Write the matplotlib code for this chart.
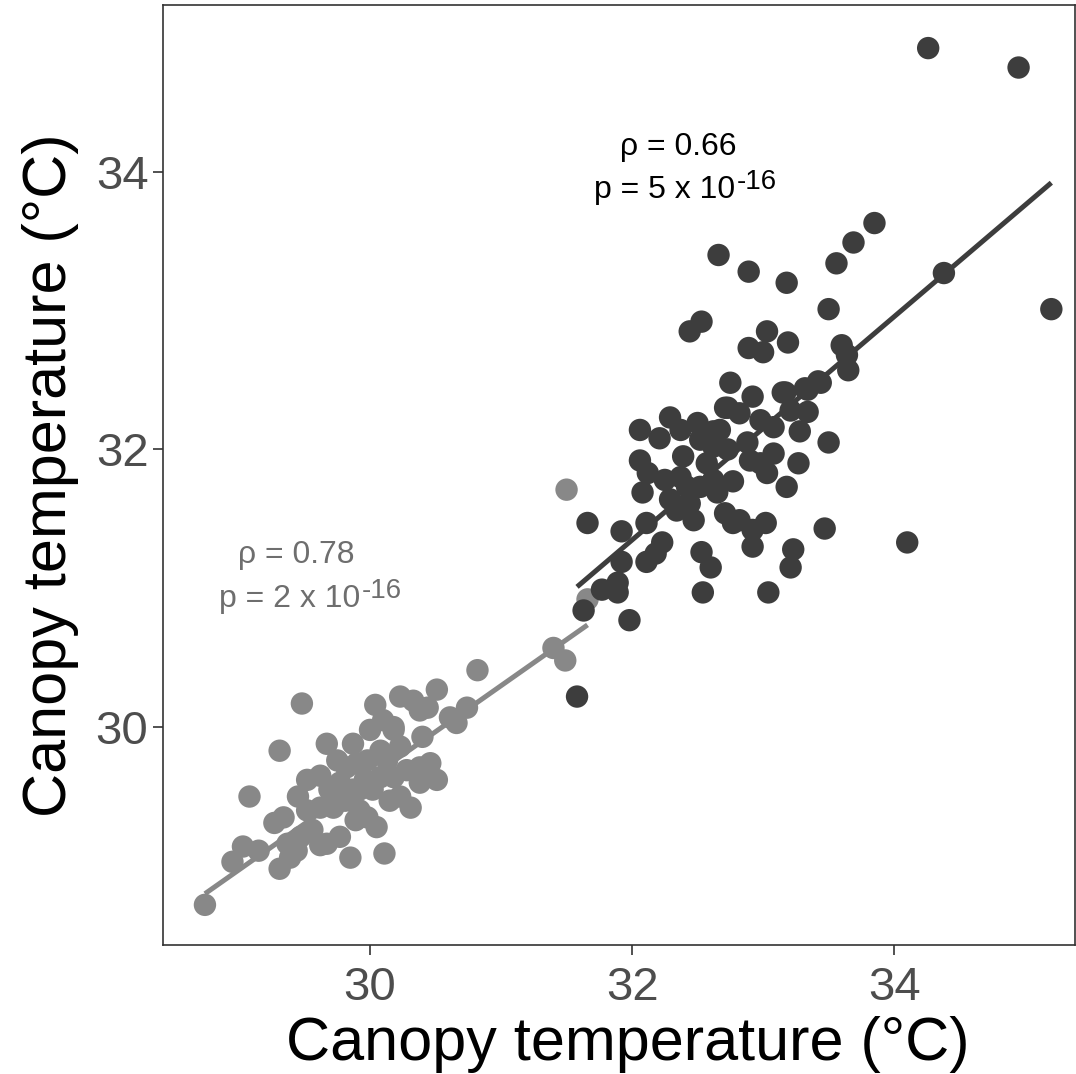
import matplotlib
matplotlib.use("Agg")
import matplotlib.pyplot as plt

plt.rcParams['font.family'] = ['Liberation Sans', 'DejaVu Sans']

# group 1 (light grey)
grey_x = [28.74, 28.95, 29.03, 29.15, 29.31, 29.27, 29.34, 29.37, 29.44, 29.08,
          29.31, 29.48, 29.67, 29.52, 29.62, 29.45, 29.52, 29.75, 29.87, 29.90,
          29.77, 29.72, 29.67, 29.85, 29.77, 29.92, 29.87, 30.02, 30.05, 30.11,
          29.98, 30.00, 30.10, 30.18, 30.08, 30.13, 30.23, 30.18, 30.08, 30.23,
          30.31, 30.28, 30.38, 30.40, 30.46, 30.51, 30.38, 30.23, 30.33, 30.44,
          30.51, 30.38, 30.61, 30.66, 30.74, 30.82, 30.18, 29.98, 29.82, 29.69,
          29.62, 29.56, 29.47, 29.39, 31.40, 31.49, 31.50, 31.66, 29.92, 29.81,
          29.96, 30.15, 30.04, 29.89, 29.62]
grey_y = [28.72, 29.03, 29.14, 29.11, 28.98, 29.31, 29.35, 29.16, 29.11, 29.50,
          29.83, 30.17, 29.88, 29.62, 29.65, 29.50, 29.40, 29.76, 29.88, 29.74,
          29.60, 29.42, 29.16, 29.06, 29.21, 29.40, 29.55, 29.55, 29.28, 29.09,
          29.35, 29.98, 30.05, 29.98, 29.83, 29.76, 29.86, 29.64, 29.64, 29.50,
          29.42, 29.69, 29.71, 29.93, 29.74, 29.62, 29.60, 30.22, 30.19, 30.14,
          30.27, 30.12, 30.07, 30.03, 30.14, 30.41, 30.00, 29.76, 29.71, 29.55,
          29.42, 29.26, 29.21, 29.06, 30.57, 30.48, 31.71, 30.92, 29.55, 29.47,
          29.62, 29.47, 30.16, 29.33, 29.15]

# group 2 (dark grey)
dark_x = [34.26, 34.95, 33.85, 33.69, 33.56, 34.38, 33.50, 35.20, 32.66, 32.89,
          33.18, 32.53, 32.44, 33.03, 32.89, 33.00, 33.19, 33.60, 33.64, 33.65,
          32.75, 33.42, 33.32, 33.17, 32.92, 32.73, 32.29, 32.50, 33.28, 33.50,
          32.06, 32.21, 32.37, 32.62, 32.71, 32.82, 33.15, 33.34, 33.44, 33.34,
          33.08, 32.98, 32.88, 33.08, 32.98, 33.03, 33.27, 33.18, 32.77, 32.62,
          32.57, 32.52, 32.65, 32.73, 32.62, 32.39, 32.37, 32.42, 32.34, 32.47,
          32.44, 32.06, 32.12, 32.08, 32.71, 32.82, 32.92, 33.02, 32.77, 32.92,
          32.53, 32.60, 32.54, 33.04, 33.23, 33.21, 33.47, 34.10, 32.23, 32.11,
          32.18, 31.92, 31.77, 31.89, 31.89, 31.63, 31.98, 31.58, 31.66, 31.92,
          32.11, 32.29, 32.25, 32.52, 32.67, 33.21, 32.90]
dark_y = [34.89, 34.75, 33.63, 33.49, 33.34, 33.27, 33.01, 33.01, 33.40, 33.28,
          33.20, 32.92, 32.85, 32.85, 32.73, 32.70, 32.77, 32.75, 32.68, 32.57,
          32.48, 32.49, 32.44, 32.41, 32.38, 32.30, 32.23, 32.19, 32.13, 32.05,
          32.14, 32.08, 32.14, 32.13, 32.30, 32.26, 32.41, 32.43, 32.48, 32.27,
          32.16, 32.21, 32.05, 31.97, 31.90, 31.83, 31.90, 31.73, 31.77, 31.78,
          31.90, 31.73, 31.69, 32.00, 32.02, 31.95, 31.80, 31.73, 31.56, 31.49,
          31.61, 31.92, 31.83, 31.69, 31.54, 31.49, 31.42, 31.47, 31.47, 31.30,
          31.26, 31.15, 30.97, 30.97, 31.28, 31.15, 31.43, 31.33, 31.33, 31.19,
          31.25, 31.19, 30.99, 31.04, 30.97, 30.84, 30.77, 30.22, 31.47, 31.41,
          31.47, 31.64, 31.78, 32.07, 32.14, 32.28, 31.92]

# fitted lines: (x start, x end, y at start, slope)
grey_fit = (28.74, 31.66, 28.80, 0.663)
dark_fit = (31.58, 35.20, 31.01, 0.804)

grey_col = '#888888'
dark_col = '#3d3d3d'
grey_txt = '#6e6e6e'

fig = plt.figure(figsize=(10.76, 10.74), dpi=100)
ax = fig.add_axes([0.1515, 0.12, 0.8475, 0.8753])

ax.scatter(grey_x, grey_y, s=260, color=grey_col, edgecolors='none', zorder=2)
ax.scatter(dark_x, dark_y, s=260, color=dark_col, edgecolors='none', zorder=3)

for (x0, x1, y0, m), col in [(grey_fit, grey_col), (dark_fit, dark_col)]:
    ax.plot([x0, x1], [y0, y0 + m * (x1 - x0)], color=col, lw=3.6,
            solid_capstyle='butt', zorder=4)


def label(xr, yr, xp, yp, rho, base, col):
    ax.text(xr, yr, 'ρ = ' + rho, color=col, fontsize=23, ha='center', va='center')
    t = ax.text(xp, yp, 'p = ' + base + ' x 10', color=col, fontsize=23,
                ha='left', va='center')
    ax.annotate('-16', xy=(1, 1), xycoords=t, xytext=(1, -5), textcoords='offset points',
                color=col, fontsize=20, ha='left', va='center')


label(29.44, 31.24, 28.85, 30.92, '0.78', '2', grey_txt)
label(32.35, 34.18, 31.71, 33.87, '0.66', '5', 'black')

ax.set_xlim(28.42, 35.38)
ax.set_ylim(28.43, 35.20)
ax.set_xticks([30, 32, 34])
ax.set_yticks([30, 32, 34])
ax.tick_params(axis='both', labelsize=34, colors='#333333', labelcolor='#4d4d4d',
               length=7, width=1.2, direction='out')
ax.tick_params(axis='x', pad=8)
for sp in ax.spines.values():
    sp.set_color('#333333')
    sp.set_linewidth(1.2)

ax.set_xlabel('Canopy temperature (°C)', fontsize=44, labelpad=4)
ax.set_ylabel('Canopy temperature (°C)', fontsize=44, labelpad=12)
ax.xaxis.set_label_coords(0.51, -0.075)

fig.savefig('out.png', dpi=100)
